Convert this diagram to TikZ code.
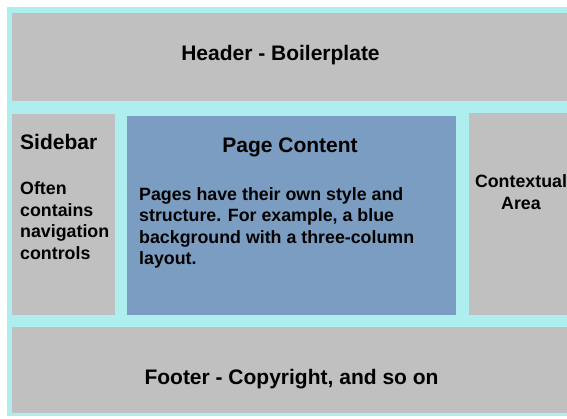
\documentclass[tikz,border=0pt]{standalone}
\usepackage{fontspec}
\setmainfont{Liberation Sans}
\definecolor{framecyan}{HTML}{AEEEEE}
\definecolor{panelgray}{HTML}{C0C0C0}
\definecolor{pageblue}{HTML}{7B9DC1}
\begin{document}
\begin{tikzpicture}[x=1pt,y=-1pt,
		title/.style={font=\fontsize{21}{25}\selectfont\bfseries,inner sep=0pt,anchor=base},
		body/.style={font=\fontsize{17.8}{21.5}\selectfont\bfseries,inner sep=0pt,align=left,anchor=base west}]
		\useasboundingbox (0,0) rectangle (567,419);
		\fill[color=white] (0,0) rectangle (567,419);
		\fill[color=framecyan] (7,7) rectangle (567,416);
		% header and footer bands
		\fill[color=panelgray] (12,13) rectangle (567,101);
		\fill[color=panelgray] (12,327) rectangle (567,413);
		% three columns
		\fill[color=panelgray] (12,114) rectangle (115,315);
		\fill[color=pageblue] (127,116) rectangle (456,315);
		\fill[color=panelgray] (469,113) rectangle (567,315);
		% multi-line texts sit on their last baseline
		\node[title] (header) at (280.5,61) {Header - Boilerplate};
		\node[title,anchor=base west] (sidebar) at (20,150) {Sidebar};
		\node[body] (sidenote) at (20,259.5) {Often\\contains\\navigation\\controls};
		\node[title] (content) at (290,152.5) {Page Content};
		\node[body] (contentnote) at (139,265) {Pages have their own style and\\structure. For example, a blue\\background with a three-column\\layout.};
		\node[body,align=center,anchor=base] (context) at (521,209.5) {Contextual\\Area};
		\node[title] (footer) at (291.5,384.3) {Footer - Copyright, and so on};
	\end{tikzpicture}
\end{document}
